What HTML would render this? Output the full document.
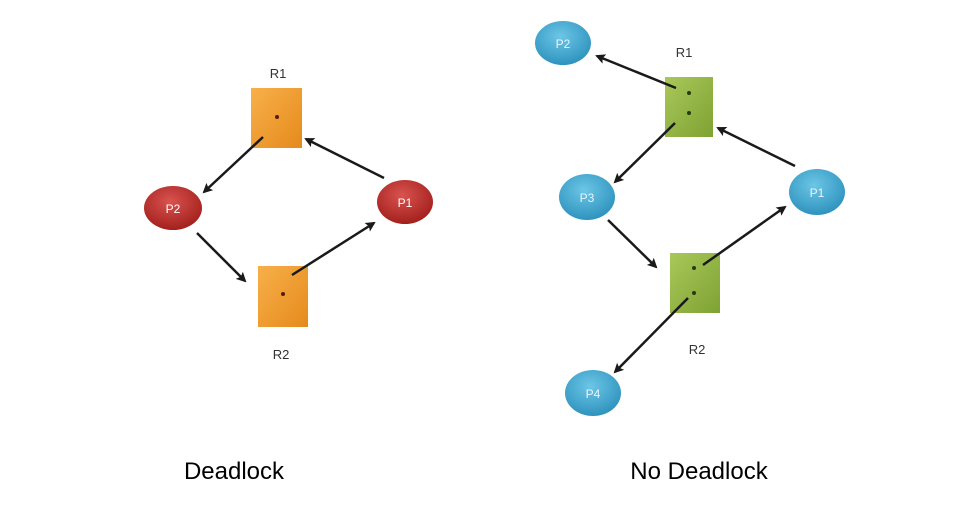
<!DOCTYPE html>
<html><head><meta charset="utf-8"><style>
html,body{margin:0;padding:0;background:#fff;width:976px;height:512px;overflow:hidden}
</style></head><body>
<svg width="976" height="512" viewBox="0 0 976 512" xmlns="http://www.w3.org/2000/svg" font-family="Liberation Sans, sans-serif">
<defs>
<marker id="ah" markerWidth="10" markerHeight="10" refX="8" refY="5" orient="auto" markerUnits="userSpaceOnUse">
<path d="M0,0 L10,5 L0,10 L2,5 z" fill="#1a1a1a"/></marker>
<radialGradient id="red" cx="45%" cy="35%" r="65%"><stop offset="0" stop-color="#d9534f"/><stop offset="1" stop-color="#a3201c"/></radialGradient>
<radialGradient id="blue" cx="45%" cy="35%" r="65%"><stop offset="0" stop-color="#6cc6e6"/><stop offset="1" stop-color="#2f93be"/></radialGradient>
<linearGradient id="org" x1="0" y1="0" x2="1" y2="1"><stop offset="0" stop-color="#f8b04a"/><stop offset="1" stop-color="#e58a1c"/></linearGradient>
<linearGradient id="grn" x1="0" y1="0" x2="1" y2="1"><stop offset="0" stop-color="#a9c85a"/><stop offset="1" stop-color="#7ea233"/></linearGradient>
</defs>
<g font-size="13" fill="#333" text-anchor="middle">
<text x="278" y="78">R1</text><text x="281" y="359">R2</text>
<text x="684" y="57">R1</text><text x="697" y="354">R2</text>
</g>
<!-- left -->
<rect x="251" y="88" width="51" height="60" fill="url(#org)"/>
<rect x="258" y="266" width="50" height="61" fill="url(#org)"/>
<circle cx="277" cy="117" r="2" fill="#5a1a0a"/><circle cx="283" cy="294" r="2" fill="#5a1a0a"/>
<ellipse cx="173" cy="208" rx="29" ry="22" fill="url(#red)"/>
<ellipse cx="405" cy="202" rx="28" ry="22" fill="url(#red)"/>
<g fill="#fff" font-size="12" text-anchor="middle"><text x="173" y="213">P2</text><text x="405" y="207">P1</text></g>
<g stroke="#1a1a1a" stroke-width="2.5" marker-end="url(#ah)">
<line x1="263" y1="137" x2="204" y2="192"/>
<line x1="384" y1="178" x2="306" y2="139"/>
<line x1="197" y1="233" x2="245" y2="281"/>
<line x1="292" y1="275" x2="374" y2="223"/>
</g>
<!-- right -->
<rect x="665" y="77" width="48" height="60" fill="url(#grn)"/>
<rect x="670" y="253" width="50" height="60" fill="url(#grn)"/>
<g fill="#2a3a10"><circle cx="689" cy="93" r="2"/><circle cx="689" cy="113" r="2"/><circle cx="694" cy="268" r="2"/><circle cx="694" cy="293" r="2"/></g>
<g fill="url(#blue)">
<ellipse cx="563" cy="43" rx="28" ry="22"/><ellipse cx="587" cy="197" rx="28" ry="23"/>
<ellipse cx="817" cy="192" rx="28" ry="23"/><ellipse cx="593" cy="393" rx="28" ry="23"/></g>
<g fill="#e8f6fc" font-size="12" text-anchor="middle"><text x="563" y="48">P2</text><text x="587" y="202">P3</text><text x="817" y="197">P1</text><text x="593" y="398">P4</text></g>
<g stroke="#1a1a1a" stroke-width="2.5" marker-end="url(#ah)">
<line x1="676" y1="88" x2="597" y2="56"/>
<line x1="675" y1="123" x2="615" y2="182"/>
<line x1="795" y1="166" x2="718" y2="128"/>
<line x1="608" y1="220" x2="656" y2="267"/>
<line x1="703" y1="265" x2="785" y2="207"/>
<line x1="688" y1="298" x2="615" y2="372"/>
</g>
<g font-size="24" fill="#000" text-anchor="middle">
<text x="234" y="479">Deadlock</text><text x="699" y="479">No Deadlock</text></g>
</svg>
</body></html>
